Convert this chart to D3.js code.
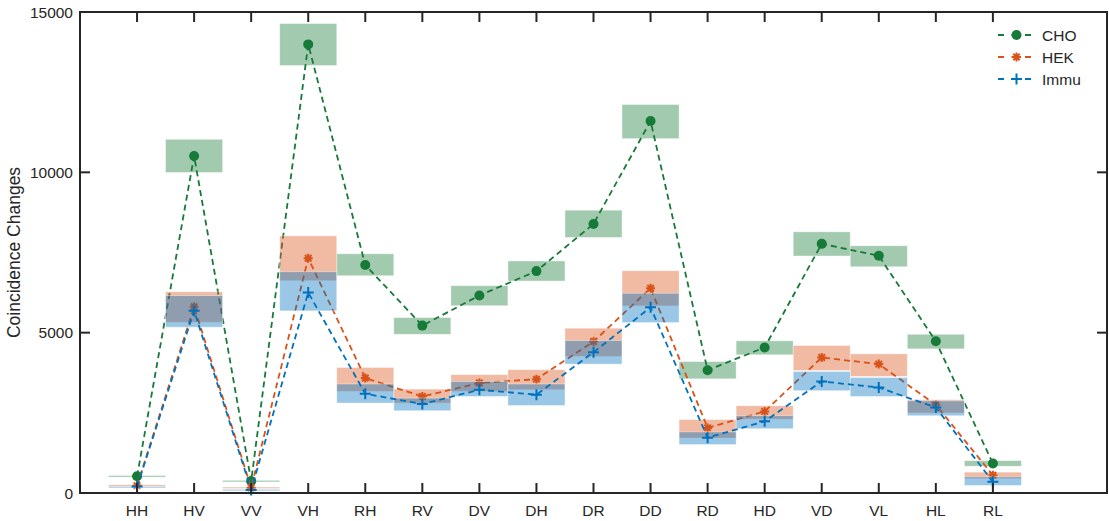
<!DOCTYPE html>
<html>
<head>
<meta charset="utf-8">
<script src="https://cdn.jsdelivr.net/npm/d3@7"></script>
<style>
  html, body { margin: 0; padding: 0; background: #fff; }
  svg { display: block; font-family: "Liberation Sans", Arial, sans-serif; }
</style>
</head>
<body>
<svg id="chart" width="1109" height="521"></svg>
<script>
const categories = ["HH","HV","VV","VH","RH","RV","DV","DH","DR","DD","RD","HD","VD","VL","HL","RL"];

const choMean = [520, 10510, 370, 13990, 7110, 5220, 6160, 6920, 8390, 11600, 3830, 4540, 7770, 7400, 4730, 920];
const choLow  = [495, 9995, 345, 13330, 6775, 4950, 5840, 6610, 7970, 11050, 3560, 4310, 7390, 7055, 4495, 835];
const choHigh = [545, 11030, 395, 14640, 7460, 5470, 6465, 7235, 8820, 12115, 4100, 4745, 8145, 7710, 4950, 1010];

const hekMean = [230, 5810, 165, 7320, 3585, 3010, 3430, 3550, 4725, 6385, 2030, 2545, 4225, 4020, 2750, 555];
const hekLow  = [205, 5325, 140, 6620, 3170, 2805, 3170, 3220, 4260, 5835, 1715, 2305, 3820, 3635, 2495, 450];
const hekHigh = [255, 6275, 185, 8020, 3915, 3240, 3690, 3845, 5140, 6930, 2290, 2720, 4600, 4340, 2910, 650];

const immuMean = [200, 5685, 95, 6250, 3095, 2775, 3220, 3065, 4390, 5790, 1725, 2235, 3480, 3290, 2665, 350];
const immuLow  = [165, 5170, 75, 5680, 2805, 2565, 3010, 2730, 4020, 5315, 1510, 2005, 3190, 3010, 2410, 235];
const immuHigh = [205, 6155, 115, 6900, 3400, 2960, 3480, 3400, 4755, 6230, 1905, 2410, 3790, 3600, 2875, 505];

const yTicks = [0, 5000, 10000, 15000];

const series = [
  { name: "CHO",  color: "rgb(22,122,56)",  mean: choMean,  low: choLow,  high: choHigh,  marker: "circle" },
  { name: "HEK",  color: "rgb(217,83,25)",  mean: hekMean,  low: hekLow,  high: hekHigh,  marker: "asterisk" },
  { name: "Immu", color: "rgb(0,114,189)",  mean: immuMean, low: immuLow, high: immuHigh, marker: "plus" }
];

const svg = d3.select("#chart");
const pL = 80, pR = 1107, pT = 12, pB = 493;
const x = d3.scaleLinear().domain([0, categories.length + 2]).range([pL, pR]);
const y = d3.scaleLinear().domain([0, 15000]).range([pB, pT]);
const axisColor = "#262626";
const tickFont = 15.5;

const plot = svg.append("g");

function drawMarker(g, type, cx, cy, color) {
  if (type === "circle") {
    g.append("circle").attr("cx", cx).attr("cy", cy).attr("r", 5).attr("fill", color);
  } else if (type === "plus") {
    const s = 5.5;
    g.append("path").attr("d", `M${cx - s},${cy}H${cx + s}M${cx},${cy - s}V${cy + s}`)
      .attr("stroke", color).attr("stroke-width", 2).attr("fill", "none");
  } else {
    const s = 4.5;
    let d = `M${cx - s},${cy}H${cx + s}M${cx},${cy - s}V${cy + s}`;
    const k = s * 0.72;
    d += `M${cx - k},${cy - k}L${cx + k},${cy + k}M${cx - k},${cy + k}L${cx + k},${cy - k}`;
    g.append("path").attr("d", d).attr("stroke", color).attr("stroke-width", 2).attr("fill", "none");
  }
}

const line = d3.line().x((d, i) => x(i + 1)).y(d => y(d));

series.forEach(s => {
  const g = plot.append("g");
  g.selectAll("rect").data(categories).join("rect")
    .attr("x", (c, i) => x(i + 0.5))
    .attr("width", (c, i) => x(i + 1.5) - x(i + 0.5))
    .attr("y", (c, i) => y(s.high[i]))
    .attr("height", (c, i) => Math.max(1.5, y(s.low[i]) - y(s.high[i])))
    .attr("fill", s.color).attr("fill-opacity", 0.4)
    .attr("stroke", "#fff").attr("stroke-opacity", 0.5).attr("stroke-width", 0.8);
  g.append("path").datum(s.mean).attr("d", line)
    .attr("fill", "none").attr("stroke", s.color).attr("stroke-width", 1.8)
    .attr("stroke-dasharray", "6,4");
  s.mean.forEach((v, i) => drawMarker(g, s.marker, x(i + 1), y(v), s.color));
});

// Axes frame
const ax = svg.append("g");
ax.append("rect").attr("x", pL).attr("y", pT).attr("width", pR - pL).attr("height", pB - pT)
  .attr("fill", "none").attr("stroke", axisColor).attr("stroke-width", 2);

const tickLen = 10;
categories.forEach((c, i) => {
  const xx = x(i + 1);
  ax.append("line").attr("x1", xx).attr("x2", xx).attr("y1", pB).attr("y2", pB - tickLen)
    .attr("stroke", axisColor).attr("stroke-width", 2);
  ax.append("line").attr("x1", xx).attr("x2", xx).attr("y1", pT).attr("y2", pT + tickLen)
    .attr("stroke", axisColor).attr("stroke-width", 2);
  ax.append("text").attr("x", xx).attr("y", 515.5).attr("text-anchor", "middle")
    .attr("font-size", tickFont).attr("fill", axisColor).text(c);
});

yTicks.forEach(t => {
  const yy = y(t);
  ax.append("line").attr("x1", pL).attr("x2", pL + tickLen).attr("y1", yy).attr("y2", yy)
    .attr("stroke", axisColor).attr("stroke-width", 2);
  ax.append("line").attr("x1", pR).attr("x2", pR - tickLen).attr("y1", yy).attr("y2", yy)
    .attr("stroke", axisColor).attr("stroke-width", 2);
  ax.append("text").attr("x", 73).attr("y", yy + 5.5).attr("text-anchor", "end")
    .attr("font-size", tickFont).attr("fill", axisColor).text(t);
});

svg.append("text")
  .attr("transform", `translate(20,${(pT + pB) / 2}) rotate(-90)`)
  .attr("text-anchor", "middle").attr("font-size", 17.5).attr("fill", axisColor)
  .text("Coincidence Changes");

// Legend
const leg = svg.append("g");
series.forEach((s, i) => {
  const ly = 35 + i * 22;
  leg.append("line").attr("x1", 997).attr("x2", 1036).attr("y1", ly).attr("y2", ly)
    .attr("stroke", s.color).attr("stroke-width", 1.8).attr("stroke-dasharray", "6,7.5")
    .attr("stroke-dashoffset", -1);
  drawMarker(leg, s.marker, 1016.5, ly, s.color);
  leg.append("text").attr("x", 1042).attr("y", ly + 5.5).attr("font-size", tickFont)
    .attr("fill", axisColor).text(s.name);
});
</script>
</body>
</html>
